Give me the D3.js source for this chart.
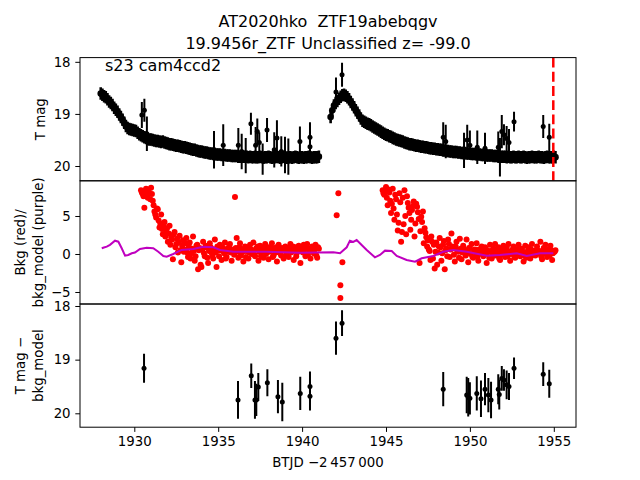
<!DOCTYPE html>
<html><head><meta charset="utf-8">
<script src="https://cdn.jsdelivr.net/npm/d3@7"></script>
<style>body{margin:0;background:#fff}svg{display:block;font-family:"DejaVu Sans",sans-serif}</style>
</head><body><svg id="c" width="640" height="480"></svg>
<script>
// ---------------- DATA ----------------
const titleLines = ["AT2020hko  ZTF19abebqgv", "19.9456r_ZTF Unclassified z= -99.0"];
const sectorLabel = "s23 cam4ccd2";
const xTicks = [1930, 1935, 1940, 1945, 1950, 1955];
const magTicks = [18, 19, 20];
const bkgTicks = [5, 0, -5];
const refEpoch = 1954.97;
const bandErr = 0.12;

// segment 1 cadence (BTJD)
const t1 = [
1928.0,1928.1,1928.2,1928.3,1928.4,1928.5,1928.6,1928.7,1928.8,1928.9,
1929.0,1929.1,1929.2,1929.3,1929.4,1929.5,1929.6,1929.7,1929.8,1929.9,
1930.0,1930.1,1930.2,1930.3,1930.4,1930.5,1930.6,1930.7,1930.8,1930.9,
1931.0,1931.1,1931.2,1931.3,1931.4,1931.5,1931.6,1931.7,1931.8,1931.9,
1932.0,1932.1,1932.2,1932.3,1932.4,1932.5,1932.6,1932.7,1932.8,1932.9,
1933.0,1933.1,1933.2,1933.3,1933.4,1933.5,1933.6,1933.7,1933.8,1933.9,
1934.0,1934.1,1934.2,1934.3,1934.4,1934.5,1934.6,1934.7,1934.8,1934.9,
1935.0,1935.1,1935.2,1935.3,1935.4,1935.5,1935.6,1935.7,1935.8,1935.9,
1936.0,1936.1,1936.2,1936.3,1936.4,1936.5,1936.6,1936.7,1936.8,1936.9,
1937.0,1937.1,1937.2,1937.3,1937.4,1937.5,1937.6,1937.7,1937.8,1937.9,
1938.0,1938.1,1938.2,1938.3,1938.4,1938.5,1938.6,1938.7,1938.8,1938.9,
1939.0,1939.1,1939.2,1939.3,1939.4,1939.5,1939.6,1939.7,1939.8,1939.9,
1940.0,1940.1,1940.2,1940.3,1940.4,1940.5,1940.6,1940.7,1940.8,1940.9,
1941.0];
const mag1 = [
18.61,18.63,18.66,18.68,18.72,18.76,18.79,18.83,18.88,18.92,
18.96,19.01,19.06,19.11,19.17,19.23,19.27,19.29,19.30,19.31,
19.32,19.33,19.36,19.39,19.41,19.43,19.45,19.46,19.48,19.49,
19.49,19.50,19.51,19.52,19.52,19.53,19.54,19.53,19.55,19.56,
19.57,19.58,19.58,19.59,19.60,19.61,19.61,19.62,19.63,19.64,
19.64,19.65,19.66,19.67,19.68,19.69,19.69,19.70,19.71,19.72,
19.72,19.73,19.74,19.74,19.75,19.76,19.76,19.77,19.77,19.78,
19.78,19.78,19.79,19.79,19.79,19.80,19.80,19.80,19.81,19.81,
19.81,19.81,19.82,19.82,19.82,19.82,19.82,19.82,19.83,19.82,
19.83,19.83,19.82,19.83,19.83,19.82,19.83,19.84,19.83,19.83,
19.82,19.83,19.84,19.83,19.83,19.82,19.83,19.84,19.83,19.82,
19.83,19.84,19.83,19.83,19.84,19.83,19.82,19.83,19.84,19.83,
19.83,19.84,19.83,19.83,19.82,19.83,19.84,19.83,19.83,19.83,
19.82];
const bkg1 = [
null,null,null,null,null,null,null,null,null,null,
null,null,null,null,null,null,null,null,null,null,
null,null,null,null,8.4,7.9,6.1,8.6,7.4,8.0,
8.7,7.0,5.6,4.8,5.9,3.5,5.2,2.6,4.2,3.0,
1.6,3.7,2.2,-0.7,2.9,1.3,0.2,2.4,-1.1,1.8,
0.6,2.1,-0.4,1.5,0.1,2.3,-0.9,1.1,-2.0,0.8,
-1.7,1.6,-0.3,0.9,-1.2,1.4,0.2,-0.6,1.9,-1.7,
0.5,1.2,-0.8,0.7,1.5,-0.4,0.3,1.3,-0.9,0.6,
7.5,2.1,-0.5,1.4,0.2,-1.0,1.0,0.4,-0.6,1.2,
0.0,1.5,-0.3,0.8,-0.9,1.1,0.3,-0.5,1.3,0.5,
-0.7,0.9,1.4,-0.2,0.6,-1.0,1.2,0.1,0.8,-0.6,
1.0,0.3,-0.4,1.3,0.5,-0.8,0.9,0.2,1.1,-1.2,
0.4,1.2,-0.3,1.3,0.6,-0.6,1.0,0.1,1.2,-0.5,
0.7];

// segment 2 cadence (BTJD)
const t2 = [
1941.7,1941.8,1941.9,
1942.0,1942.1,1942.2,1942.3,1942.4,1942.5,1942.6,1942.7,1942.8,1942.9,
1943.0,1943.1,1943.2,1943.3,1943.4,1943.5,1943.6,1943.7,1943.8,1943.9,
1944.0,1944.1,1944.2,1944.3,1944.4,1944.5,1944.6,1944.7,1944.8,1944.9,
1945.0,1945.1,1945.2,1945.3,1945.4,1945.5,1945.6,1945.7,1945.8,1945.9,
1946.0,1946.1,1946.2,1946.3,1946.4,1946.5,1946.6,1946.7,1946.8,1946.9,
1947.0,1947.1,1947.2,1947.3,1947.4,1947.5,1947.6,1947.7,1947.8,1947.9,
1948.0,1948.1,1948.2,1948.3,1948.4,1948.5,1948.6,1948.7,1948.8,1948.9,
1949.0,1949.1,1949.2,1949.3,1949.4,1949.5,1949.6,1949.7,1949.8,1949.9,
1950.0,1950.1,1950.2,1950.3,1950.4,1950.5,1950.6,1950.7,1950.8,1950.9,
1951.0,1951.1,1951.2,1951.3,1951.4,1951.5,1951.6,1951.7,1951.8,1951.9,
1952.0,1952.1,1952.2,1952.3,1952.4,1952.5,1952.6,1952.7,1952.8,1952.9,
1953.0,1953.1,1953.2,1953.3,1953.4,1953.5,1953.6,1953.7,1953.8,1953.9,
1954.0,1954.1,1954.2,1954.3,1954.4,1954.5,1954.6,1954.7,1954.8,1954.9,
1955.0,1955.1];
const mag2 = [
19.06,18.93,18.84,
18.79,18.75,18.71,18.67,18.64,18.63,18.65,18.68,18.72,18.77,
18.82,18.87,18.93,18.98,19.03,19.09,19.13,19.15,19.17,19.19,
19.20,19.22,19.24,19.26,19.28,19.30,19.32,19.34,19.36,19.38,
19.40,19.41,19.43,19.44,19.46,19.47,19.49,19.50,19.51,19.52,
19.53,19.55,19.56,19.57,19.58,19.58,19.59,19.60,19.61,19.61,
19.62,19.63,19.63,19.64,19.64,19.65,19.66,19.66,19.67,19.67,
19.68,19.68,19.69,19.69,19.70,19.70,19.71,19.71,19.72,19.72,
19.73,19.73,19.73,19.74,19.74,19.75,19.75,19.75,19.76,19.76,
19.76,19.77,19.77,19.77,19.78,19.78,19.78,19.79,19.79,19.79,
19.80,19.80,19.80,19.80,19.81,19.81,19.81,19.81,19.82,19.82,
19.82,19.82,19.83,19.82,19.83,19.83,19.82,19.83,19.83,19.82,
19.83,19.83,19.82,19.83,19.84,19.83,19.83,19.82,19.83,19.83,
19.83,19.82,19.83,19.83,19.84,19.83,19.82,19.83,19.83,19.83,
19.82,19.83];
const bkg2 = [
null,null,null,
null,null,null,null,null,null,null,null,null,null,
null,null,null,null,null,null,null,null,null,null,
null,null,null,null,null,null,null,null,8.4,7.8,
8.8,6.4,8.1,5.4,8.6,4.5,7.2,3.1,8.0,1.6,
7.4,8.4,2.6,6.7,5.4,4.5,6.3,2.3,6.6,5.5,
-1.2,4.9,5.6,3.4,2.2,1.8,0.4,2.3,-0.6,-1.9,
1.5,0.2,2.1,-0.9,1.2,-2.0,0.7,1.9,-0.4,2.7,
0.9,-1.0,1.6,0.3,2.0,-0.7,1.1,0.5,1.9,-1.1,
0.8,1.3,-0.5,0.6,1.4,-0.9,0.2,1.0,-0.3,0.9,
-1.2,0.4,1.2,-0.6,0.7,1.3,-0.2,0.9,-0.8,0.5,
1.1,-0.4,0.8,1.3,-0.9,0.3,1.0,-0.5,0.6,1.2,
-0.3,0.7,-1.0,1.1,0.2,0.9,-0.6,1.3,0.4,-0.2,
1.0,0.1,1.6,-0.7,0.8,1.2,-0.4,0.6,1.1,-0.8,
0.3,0.5];

// background measurements between the cadence points above
const bkgHalfTime1 = [
1930.45,1930.55,1930.65,1930.75,1930.85,1930.95,
1931.05,1931.15,1931.25,1931.35,1931.45,1931.55,1931.65,1931.75,1931.85,1931.95,
1932.05,1932.15,1932.25,1932.35,1932.45,1932.55,1932.65,1932.75,1932.85,1932.95,
1933.05,1933.15,1933.25,1933.35,1933.45,1933.55,1933.65,1933.75,1933.85,1933.95,
1934.05,1934.15,1934.25,1934.35,1934.45,1934.55,1934.65,1934.75,1934.85,1934.95,
1935.05,1935.15,1935.25,1935.35,1935.45,1935.55,1935.65,1935.75,1935.85,1935.95,
1936.05,1936.15,1936.25,1936.35,1936.45,1936.55,1936.65,1936.75,1936.85,1936.95,
1937.05,1937.15,1937.25,1937.35,1937.45,1937.55,1937.65,1937.75,1937.85,1937.95,
1938.05,1938.15,1938.25,1938.35,1938.45,1938.55,1938.65,1938.75,1938.85,1938.95,
1939.05,1939.15,1939.25,1939.35,1939.45,1939.55,1939.65,1939.75,1939.85,1939.95,
1940.05,1940.15,1940.25,1940.35,1940.45,1940.55,1940.65,1940.75,1940.85,1940.95];
const bkgHalfVal1 = [
8.1,7.6,8.3,7.9,8.5,7.2,
7.9,6.4,5.2,6.0,4.4,4.0,3.3,3.8,2.3,3.4,
2.7,1.2,1.9,2.6,0.9,2.0,1.5,0.5,1.1,0.3,
1.4,0.2,1.0,-0.6,0.7,0.4,-0.3,1.2,0.5,-1.4,
0.6,0.1,1.1,-0.5,0.4,0.9,-0.2,0.6,0.2,1.0,
-0.3,0.5,0.9,0.1,-0.6,0.7,1.0,0.2,0.5,-0.1,
0.8,0.3,0.9,-0.2,0.6,0.4,-0.4,0.9,0.2,0.6,
0.4,-0.1,0.7,1.0,0.3,-0.3,0.8,0.5,0.0,0.9,
0.3,0.6,-0.4,0.8,0.2,1.0,0.4,-0.2,0.7,0.5,
-0.1,0.8,0.4,0.2,1.0,0.6,-0.3,0.7,0.4,0.9,
0.2,0.6,0.9,-0.1,0.5,0.8,0.3,0.6,-0.2,0.9];
const bkgHalfTime2 = [
1944.85,1944.95,
1945.05,1945.15,1945.25,1945.35,1945.45,1945.55,1945.65,1945.75,1945.85,1945.95,
1946.05,1946.15,1946.25,1946.35,1946.45,1946.55,1946.65,1946.75,1946.85,1946.95,
1947.05,1947.15,1947.25,1947.35,1947.45,1947.55,1947.65,1947.75,1947.85,1947.95,
1948.05,1948.15,1948.25,1948.35,1948.45,1948.55,1948.65,1948.75,1948.85,1948.95,
1949.05,1949.15,1949.25,1949.35,1949.45,1949.55,1949.65,1949.75,1949.85,1949.95,
1950.05,1950.15,1950.25,1950.35,1950.45,1950.55,1950.65,1950.75,1950.85,1950.95,
1951.05,1951.15,1951.25,1951.35,1951.45,1951.55,1951.65,1951.75,1951.85,1951.95,
1952.05,1952.15,1952.25,1952.35,1952.45,1952.55,1952.65,1952.75,1952.85,1952.95,
1953.05,1953.15,1953.25,1953.35,1953.45,1953.55,1953.65,1953.75,1953.85,1953.95,
1954.05,1954.15,1954.25,1954.35,1954.45,1954.55,1954.65,1954.75,1954.85,1954.95,
1955.05];
const bkgHalfVal2 = [
8.0,8.2,
7.4,8.5,7.0,6.6,6.0,7.8,5.2,4.1,6.8,2.9,
3.9,5.0,7.6,6.1,3.2,5.8,6.9,4.0,6.2,4.6,
3.0,4.2,1.4,2.8,1.0,0.6,-0.8,1.6,1.2,0.3,
-1.4,1.0,0.9,0.1,1.7,0.5,-0.3,1.3,0.6,1.0,
-0.1,1.0,0.4,-0.5,0.7,0.2,0.6,-0.2,0.3,0.8,
0.0,-0.4,0.5,0.2,-0.3,0.6,0.1,0.3,-0.1,0.7,
0.2,-0.5,0.4,0.1,-0.2,0.5,0.0,-0.6,0.3,-0.1,
0.4,0.1,-0.3,0.3,0.0,0.6,-0.4,0.2,-0.1,0.5,
0.0,0.3,-0.2,-0.5,0.4,0.1,0.6,-0.1,0.2,0.5,
0.1,0.4,-0.3,0.2,0.6,0.0,0.3,-0.2,0.5,0.1,
0.3];
// isolated background spikes near the orbit start
const bkgSpikeTime = [1942.06, 1942.16, 1942.28, 1942.28, 1942.40];
const bkgSpikeVal = [5.1, 8.0, -4.1, -5.8, -1.1];

// background model (purple)
const modelTime = [1928.06,1928.19,1928.36,1928.55,1928.85,1929.05,1929.25,1929.45,1929.64,1929.85,1930.04,1930.34,1930.74,1931.13,1931.43,1931.73,1931.93,1932.32,1932.82,1933.52,1934.11,1934.71,1935.11,1935.90,1937.89,1939.87,1941.86,1942.26,1942.66,1942.85,1943.05,1943.25,1943.55,1943.85,1944.34,1944.64,1944.94,1945.34,1945.64,1946.23,1946.73,1947.13,1947.82,1948.41,1949.01,1949.81,1951.00,1951.79,1952.79,1953.39,1954.18,1954.97];
const modelVal  = [0.75,0.85,0.96,1.2,1.75,1.62,0.75,-0.22,-0.13,0.09,0.2,0.66,0.83,0.75,0.3,-0.26,-0.35,0.0,0.53,0.66,0.96,0.88,0.53,0.3,0.3,0.17,0.22,0.09,0.88,1.75,1.6,1.84,1.18,0.53,-0.44,-0.13,0.44,0.39,-0.26,-0.79,-1.01,-0.57,-0.26,0.3,0.53,0.3,-0.22,-0.13,0.09,-0.26,0.09,0.09];

// individual detections with large errors (top panel)
const detTime = [1930.45,1930.60,1930.75,1934.75,1935.30,1936.20,1936.40,1936.64,1936.95,1937.23,1937.33,1937.45,1937.65,1937.91,1938.34,1938.50,1938.76,1938.98,1939.18,1939.87,1940.47,1940.47,
  1942.02,1942.38,1948.41,1948.56,1949.65,1949.84,1950.00,1950.44,1950.90,1951.69,1951.79,1951.90,1952.03,1952.19,1952.33,1952.63,1954.37,1954.73];
const detMag = [19.02,18.93,19.38,19.69,19.60,19.60,19.72,19.80,19.19,19.60,19.34,19.55,19.87,19.31,19.69,19.46,19.72,19.79,19.82,19.53,19.45,19.63,
  18.58,18.25,19.45,19.53,19.70,19.50,19.60,19.64,19.66,19.64,19.83,19.34,19.40,19.47,19.55,19.15,19.24,19.45];
const detErr = [0.25,0.22,0.33,0.36,0.40,0.33,0.34,0.34,0.21,0.35,0.25,0.20,0.30,0.23,0.34,0.34,0.29,0.35,0.35,0.29,0.29,0.29,
  0.28,0.23,0.29,0.32,0.34,0.29,0.28,0.32,0.30,0.30,0.37,0.32,0.20,0.24,0.26,0.19,0.22,0.26];

// bottom panel: T mag - bkg_model
const subTime = [1930.58,1936.18,1936.97,1937.19,1937.27,1937.39,1937.93,1938.56,1938.82,1939.89,1940.47,1940.47,
  1942.02,1942.38,1948.41,1949.81,1949.90,1950.00,1950.41,1950.66,1950.90,1951.10,1951.26,1951.69,1951.75,1951.90,1952.03,1952.19,1952.33,1952.63,1954.37,1954.73];
const subMag = [19.16,19.75,19.30,19.75,19.75,19.51,19.43,19.69,19.79,19.63,19.50,19.68,
  18.60,18.32,19.55,19.66,19.70,19.72,19.63,19.73,19.55,19.66,19.75,19.55,19.65,19.35,19.38,19.47,19.50,19.16,19.27,19.45];
const subErr = [0.27,0.35,0.23,0.35,0.30,0.26,0.25,0.31,0.36,0.31,0.28,0.27,
  0.31,0.24,0.32,0.34,0.36,0.30,0.32,0.34,0.30,0.32,0.34,0.28,0.28,0.23,0.20,0.27,0.25,0.20,0.22,0.26];

// ---------------- LAYOUT ----------------
const L = 80, R = 576, P0 = 57.6, PH = 123.2;
const svg = d3.select("#c");
const x = d3.scaleLinear().domain([1926.764, 1956.323]).range([L, R]);
const y1 = d3.scaleLinear().domain([17.919, 20.284]).range([P0, P0 + PH]);
const y2 = d3.scaleLinear().domain([9.63, -6.58]).range([P0 + PH, P0 + 2 * PH]);
const y3 = d3.scaleLinear().domain([17.963, 20.259]).range([P0 + 2 * PH, P0 + 3 * PH]);

const defs = svg.append("defs");
[0, 1, 2].forEach(i => {
  defs.append("clipPath").attr("id", "clip" + i).append("rect")
    .attr("x", L).attr("y", P0 + i * PH).attr("width", R - L).attr("height", PH);
});

function zip(t, v, e) {
  return t.map((ti, i) => ({ t: ti, v: v[i], e: e ? (Array.isArray(e) ? e[i] : e) : 0 })).filter(d => d.v != null);
}
function errPoints(g, data, y, r, sw) {
  g.append("g").selectAll("line").data(data).join("line")
    .attr("x1", d => x(d.t)).attr("x2", d => x(d.t))
    .attr("y1", d => y(d.v - d.e)).attr("y2", d => y(d.v + d.e))
    .attr("stroke", "#000").attr("stroke-width", sw);
  g.append("g").selectAll("circle").data(data).join("circle")
    .attr("cx", d => x(d.t)).attr("cy", d => y(d.v)).attr("r", r).attr("fill", "#000");
}

// ---- top panel ----
const g1 = svg.append("g").attr("clip-path", "url(#clip0)");
errPoints(g1, zip(t1, mag1, bandErr), y1, 3.3, 2.6);
errPoints(g1, zip(t2, mag2, bandErr), y1, 3.3, 2.6);
errPoints(g1, zip(detTime, detMag, detErr), y1, 2.5, 2);
g1.append("line").attr("x1", x(refEpoch)).attr("x2", x(refEpoch))
  .attr("y1", P0).attr("y2", P0 + PH)
  .attr("stroke", "#ff0000").attr("stroke-width", 2.5).attr("stroke-dasharray", "9.9,4.3");

// ---- middle panel ----
const g2 = svg.append("g").attr("clip-path", "url(#clip1)");
const redData = zip(t1, bkg1).concat(zip(bkgHalfTime1, bkgHalfVal1), zip(t2, bkg2), zip(bkgHalfTime2, bkgHalfVal2), zip(bkgSpikeTime, bkgSpikeVal));
g2.append("g").selectAll("circle").data(redData).join("circle")
  .attr("cx", d => x(d.t)).attr("cy", d => y2(d.v)).attr("r", 3).attr("fill", "#ff0000");
g2.append("path").datum(zip(modelTime, modelVal))
  .attr("d", d3.line().x(d => x(d.t)).y(d => y2(d.v)))
  .attr("fill", "none").attr("stroke", "#bf00bf").attr("stroke-width", 2);

// ---- bottom panel ----
const g3 = svg.append("g").attr("clip-path", "url(#clip2)");
errPoints(g3, zip(subTime, subMag, subErr), y3, 2.5, 2);

// ---- axes ----
function yAxis(y, ticks, fmt) {
  const a = svg.append("g").attr("transform", `translate(${L},0)`)
    .call(d3.axisLeft(y).tickValues(ticks).tickFormat(fmt).tickSize(4.7).tickPadding(4.7));
  a.select(".domain").remove();
  a.selectAll("line").attr("stroke", "#000").attr("stroke-width", 1);
  a.selectAll("text").attr("font-size", 13.33).attr("fill", "#000").attr("font-family", "DejaVu Sans");
}
yAxis(y1, magTicks, d3.format("d"));
yAxis(y2, bkgTicks, d => d < 0 ? "\u2212" + Math.abs(d) : String(d));
yAxis(y3, magTicks, d3.format("d"));
const xa = svg.append("g").attr("transform", `translate(0,${P0 + 3 * PH})`)
  .call(d3.axisBottom(x).tickValues(xTicks).tickFormat(d3.format("d")).tickSize(4.7).tickPadding(4.7));
xa.select(".domain").remove();
xa.selectAll("line").attr("stroke", "#000").attr("stroke-width", 1);
xa.selectAll("text").attr("font-size", 13.33).attr("fill", "#000").attr("font-family", "DejaVu Sans");

// frames
[0, 1, 2].forEach(i => {
  svg.append("rect").attr("x", L).attr("y", P0 + i * PH).attr("width", R - L).attr("height", PH)
    .attr("fill", "none").attr("stroke", "#000").attr("stroke-width", 1);
});

// ---- texts ----
svg.append("text").attr("x", 328).attr("y", 26.5).attr("text-anchor", "middle").attr("font-size", 16)
  .style("white-space", "pre").text(titleLines[0]);
svg.append("text").attr("x", 328).attr("y", 48.5).attr("text-anchor", "middle").attr("font-size", 16)
  .style("white-space", "pre").text(titleLines[1]);
svg.append("text").attr("x", 105).attr("y", 70.5).attr("font-size", 16).text(sectorLabel);

function ylab(lines, bxs, cy) {
  lines.forEach((s, i) => {
    svg.append("text").attr("transform", `translate(${bxs[i]},${cy}) rotate(-90)`)
      .attr("text-anchor", "middle").attr("font-size", 13.33).text(s);
  });
}
ylab(["T mag"], [45], P0 + PH / 2);
ylab(["Bkg (red)/", "bkg_model (purple)"], [24.7, 42.7], P0 + 1.5 * PH);
ylab(["T mag \u2212", "bkg_model"], [24.7, 42.7], P0 + 2.5 * PH);
svg.append("text").attr("x", 328).attr("y", 467).attr("text-anchor", "middle").attr("font-size", 13.33)
  .text("BTJD \u22122\u2009457\u2009000");
</script></body></html>
